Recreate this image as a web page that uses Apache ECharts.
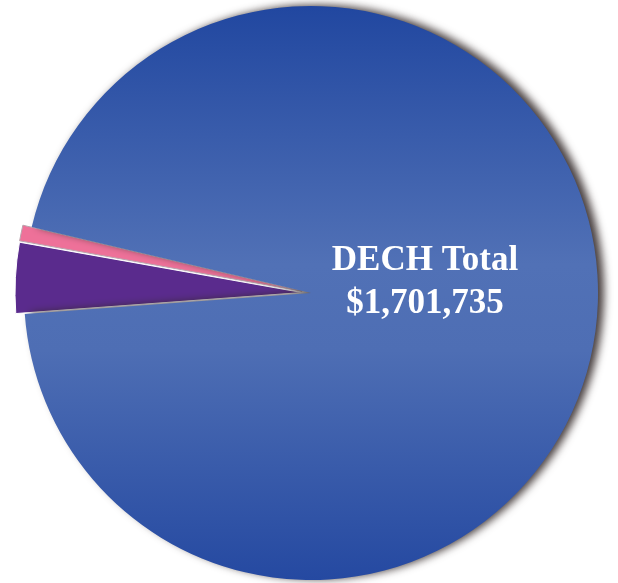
<!DOCTYPE html>
<html>
<head>
<meta charset="utf-8">
<script src="https://cdn.jsdelivr.net/npm/echarts@6/dist/echarts.min.js"></script>
<style>html,body{margin:0;padding:0;background:#fff}#c{width:618px;height:583px}</style>
</head>
<body>
<div id="c"></div>
<script>
const categories = ['Other A', 'Other B', 'DECH'];
const values = [67600, 15100, 1619035];
const totalLabel = ['DECH Total', '$1,701,735'];

const chart = echarts.init(document.getElementById('c'), null, {renderer: 'canvas'});
const blueGrad = new echarts.graphic.LinearGradient(0, 0, 0, 1, [
  {offset: 0, color: '#2147a0'},
  {offset: 0.45, color: '#5171b6'},
  {offset: 0.6, color: '#4e6eb4'},
  {offset: 1, color: '#2549a1'}
]);
const styles = [
  {color: '#5a2b8d', borderColor: '#ffffff', borderWidth: 1},
  {color: '#ee7199', borderColor: '#b9a3ad', borderWidth: 1},
  {color: blueGrad, shadowColor: 'rgba(50,40,40,0.9)', shadowBlur: 8, shadowOffsetX: 6, shadowOffsetY: -1}
];
chart.setOption({
  animation: false,
  series: [{
    type: 'pie',
    center: [311, 293],
    radius: [0, 287],
    startAngle: 184.2,
    clockwise: true,
    selectedMode: 'multiple',
    selectedOffset: 9,
    label: {show: false},
    labelLine: {show: false},
    emphasis: {disabled: true},
    data: categories.map((c, i) => ({
      name: c, value: values[i], selected: i < 2, itemStyle: styles[i]
    }))
  }],
  graphic: [{
    type: 'text', x: 425, y: 239, z: 100, zlevel: 1,
    style: {
      text: totalLabel.join('\n'), align: 'center', verticalAlign: 'top',
      fill: '#ffffff', font: 'bold 35px "Liberation Serif"', lineHeight: 43
    }
  }]
});
</script>
</body>
</html>
